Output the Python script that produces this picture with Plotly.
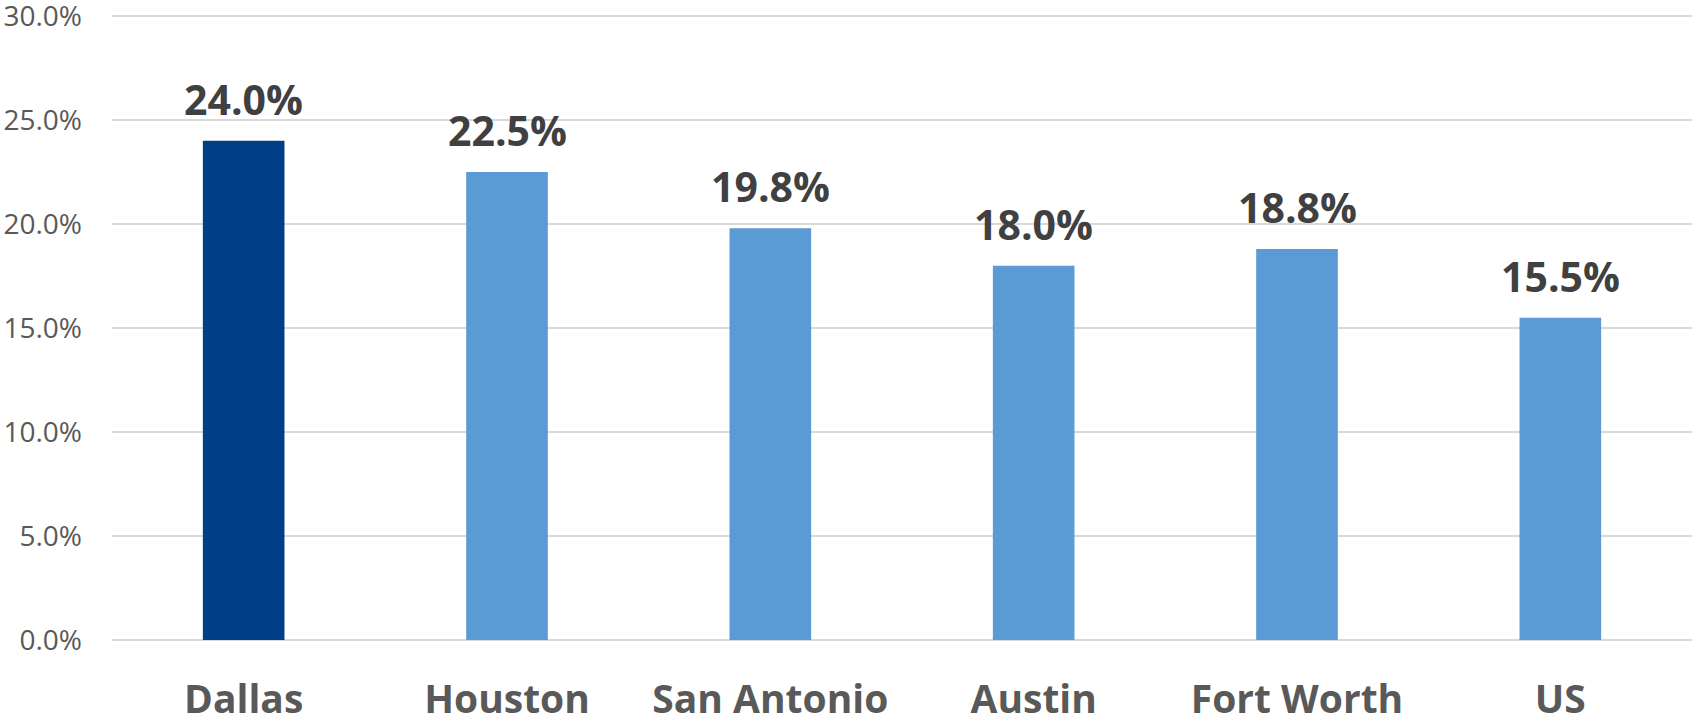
import plotly.graph_objects as go

categories = ["Dallas", "Houston", "San Antonio", "Austin", "Fort Worth", "US"]
values = [24.0, 22.5, 19.8, 18.0, 18.8, 15.5]
labels = ["24.0%", "22.5%", "19.8%", "18.0%", "18.8%", "15.5%"]
tick_vals = [0, 5, 10, 15, 20, 25, 30]
tick_text = ["0.0%", "5.0%", "10.0%", "15.0%", "20.0%", "25.0%", "30.0%"]
colors = ["#003F87", "#5B9BD5", "#5B9BD5", "#5B9BD5", "#5B9BD5", "#5B9BD5"]

fig = go.Figure()
fig.add_trace(go.Bar(x=categories, y=values, marker=dict(color=colors, line=dict(width=0)),
                     width=0.31, hoverinfo="skip", cliponaxis=False))

for c, v, t in zip(categories, values, labels):
    fig.add_annotation(x=c, y=v, text=t, showarrow=False, yanchor="bottom", yshift=12,
                       font=dict(family="Open Sans", size=41, color="#404040", weight="bold"))

fig.update_layout(
    width=1692, height=722,
    margin=dict(l=112, r=0, t=14, b=82, autoexpand=False),
    paper_bgcolor="white", plot_bgcolor="white",
    showlegend=False,
    font=dict(family="Open Sans"),
)
fig.update_xaxes(
    tickfont=dict(family="Open Sans", size=39, color="#595959", weight="bold"),
    showgrid=False, showline=False, ticks="", ticklabelstandoff=33, automargin=False,
    ticklabeloverflow="allow",
)
fig.update_yaxes(
    range=[0, 30.1], tickvals=tick_vals, ticktext=tick_text,
    tickfont=dict(family="Open Sans", size=28, color="#595959"),
    showgrid=True, gridcolor="#D9D9D9", gridwidth=1.5,
    zeroline=True, zerolinecolor="#D9D9D9", zerolinewidth=1.5,
    showline=False, ticks="", ticklabelstandoff=29, automargin=False,
    ticklabeloverflow="allow",
)

fig.write_html("out.html", config={"displayModeBar": False},
               post_script="document.body.style.margin='0';document.body.style.overflow='hidden';")
